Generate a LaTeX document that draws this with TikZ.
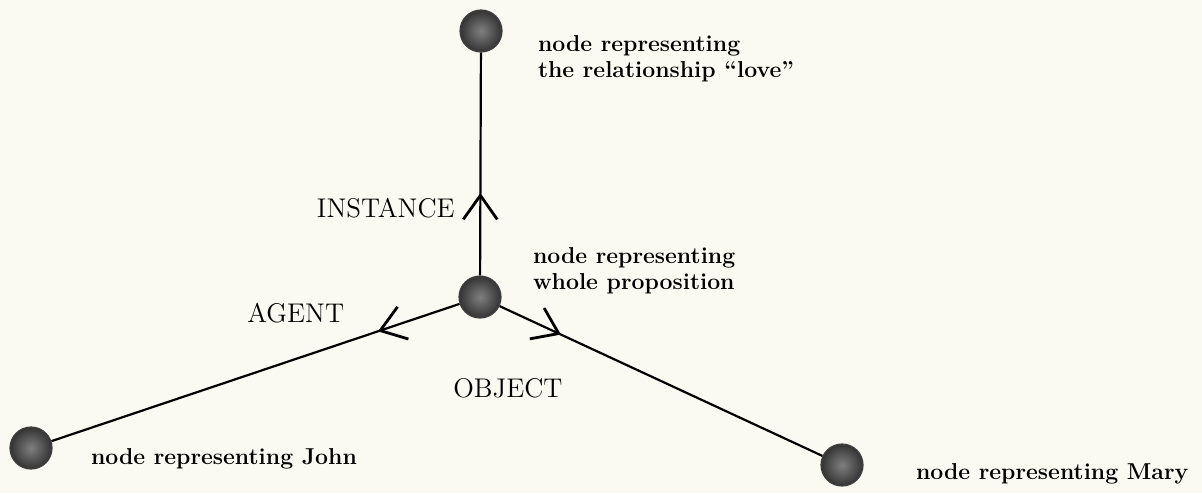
\documentclass[tikz,border=0pt]{standalone}
\usepackage{tikz}
\usetikzlibrary{arrows.meta,positioning,decorations.markings}
\definecolor{paper}{RGB}{251,250,242}

\begin{document}
\begin{tikzpicture}[
  x=0.5pt, y=-0.5pt,
  dot/.style={circle,minimum size=21pt,inner sep=0pt,draw=black!75,line width=0.6pt,
    inner color=black!50,outer color=black!80},
  desc/.style={inner sep=0pt,align=left,font=\fontsize{11.5}{13}\selectfont\bfseries},
  rel/.style={inner sep=0pt,font=\fontsize{13.5}{15}\selectfont},
  link/.style={line width=1.1pt},
  midarr/.style={postaction={decorate},decoration={markings,
    mark=at position #1 with {\arrow{Straight Barb[length=12pt,width=17pt,line width=1.4pt]}}}}
]
\fill[paper] (0,0) rectangle (1202,493);
% the four nodes
\node[dot] (love) at (481,31) {};
\node[dot] (prop) at (480,297) {};
\node[dot] (john) at (31,448) {};
\node[dot] (mary) at (842,465) {};
% what they stand for
\node[desc,right=17.5pt of love,yshift=-14pt] (lovetxt) {node representing\\the relationship “love”};
\node[desc,right=15.5pt of prop,yshift=13pt] (proptxt) {node representing\\whole proposition};
\node[desc,right=19pt of john,yshift=-5.5pt] (johntxt) {node representing John};
\node[desc,right=26pt of mary,yshift=-4.5pt] (marytxt) {node representing Mary};
% links
\draw[link,midarr=0.37] (prop) -- (love);
\draw[link,midarr=0.2] (prop) -- (john);
\draw[link,midarr=0.19] (prop) -- (mary);
\node[rel,anchor=base east] (inst) at (455,217) {INSTANCE};
\node[rel,anchor=base west] (agent) at (247,322) {AGENT};
\node[rel,anchor=base west] (obj) at (453,397) {OBJECT};
\end{tikzpicture}
\end{document}
